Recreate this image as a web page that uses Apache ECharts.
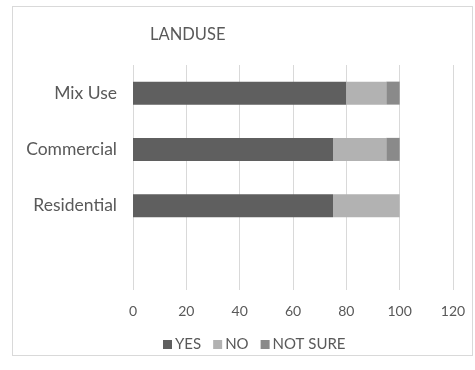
<!DOCTYPE html>
<html><head><meta charset="utf-8">
<script src="https://cdn.jsdelivr.net/npm/echarts@6/dist/echarts.min.js"></script>
<style>html,body{margin:0;padding:0;background:#fff}#box{position:absolute;left:12px;top:6px;width:461px;height:350px;border:1px solid #d9d9d9;box-sizing:border-box}#c{width:475px;height:370px}</style>
</head><body><div id="box"></div><div id="c"></div>
<script>
const categories = ['Mix Use', 'Commercial', 'Residential', ''];
const yesValues = [80, 75, 75, null];
const noValues = [15, 20, 25, null];
const notSureValues = [5, 5, 0, null];
const xTicks = [0, 20, 40, 60, 80, 100, 120];

const font = 'Lato, "Open Sans", sans-serif';
const chart = echarts.init(document.getElementById('c'));
const mk = (name, data, color) => ({
  name, type: 'bar', stack: 'a', data, barWidth: 23,
  itemStyle: { color }, emphasis: { disabled: true }
});
chart.setOption({
  animation: false,
  title: { text: 'LANDUSE', left: 145, top: 21, textStyle: { fontFamily: font, fontSize: 16.5, fontWeight: 'normal', color: '#595959' } },
  grid: { left: 133, right: 22, top: 65, bottom: 80, containLabel: false },
  xAxis: {
    type: 'value', min: xTicks[0], max: xTicks[xTicks.length - 1], interval: 20,
    axisLine: { show: false }, axisTick: { show: false },
    splitLine: { lineStyle: { color: '#d9d9d9', width: 1 } },
    axisLabel: { fontFamily: font, fontSize: 14, color: '#595959', margin: 14 }
  },
  yAxis: {
    type: 'category', data: categories, inverse: true,
    axisLine: { show: false }, axisTick: { show: false },
    axisLabel: { fontFamily: font, fontSize: 17.5, color: '#595959', margin: 16 }
  },
  legend: {
    bottom: 13, left: 158, itemWidth: 9, itemHeight: 9, itemGap: 12,
    icon: 'rect', textStyle: { fontFamily: font, fontSize: 15, color: '#595959', padding: [0, 0, 0, -2] },
    data: ['YES', 'NO', 'NOT SURE']
  },
  series: [
    mk('YES', yesValues, '#5f5f5f'),
    mk('NO', noValues, '#b2b2b2'),
    mk('NOT SURE', notSureValues, '#8a8a8a')
  ]
});
</script></body></html>
